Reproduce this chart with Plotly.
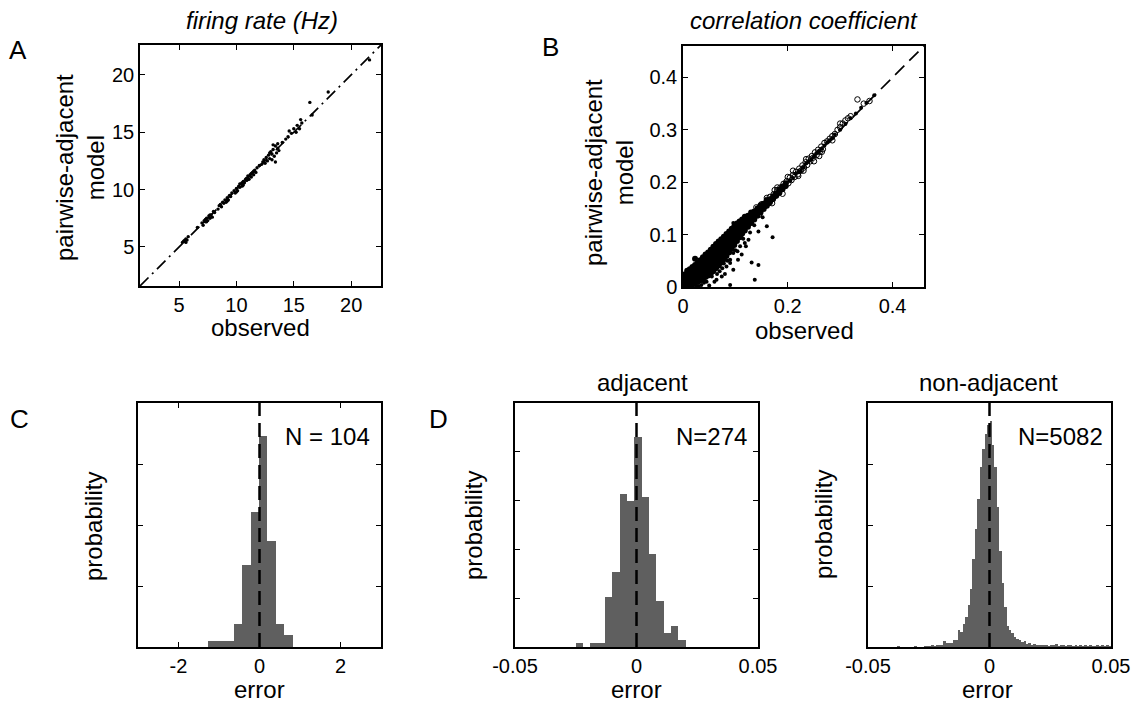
import plotly.graph_objects as go

W, H = 1144, 703
FONT = "Liberation Sans, Arial, Helvetica, sans-serif"

# ---------------- Panel A: firing rate (Hz) ----------------
a_observed = [5.3, 5.4, 5.5, 5.6, 5.7, 5.8, 5.5, 6.6,
              7.0, 7.1, 7.2, 7.3, 7.4, 7.5, 7.6, 7.7, 7.8, 7.9, 8.0, 7.4, 7.7,
              8.4, 8.5, 8.7, 8.8, 8.9, 9.0, 9.1, 9.2, 9.3, 9.4, 9.5, 8.6, 9.2,
              9.8, 9.9, 10.0, 10.1, 10.2, 10.3, 10.4, 10.5, 10.6, 10.7, 10.8, 10.9, 11.0,
              11.1, 11.2, 11.3, 11.4, 11.5, 11.6, 11.7, 10.0, 10.5, 11.0, 10.3, 11.3,
              12.0, 12.2,
              12.4, 12.5, 12.6, 12.7, 12.8, 12.9, 13.0, 13.1, 13.2, 13.3, 13.4, 13.5, 13.6, 13.7,
              13.2, 12.9, 13.4, 13.6,
              14.0, 14.3, 14.6, 14.8, 15.0, 15.2, 15.3, 15.5, 15.6, 15.7,
              16.4, 16.6, 18.0, 21.6,
              7.3, 8.1, 9.6, 10.6, 10.9, 11.5, 11.8, 12.3, 13.1, 14.5, 5.6]
a_model = [5.4, 5.5, 5.5, 5.7, 5.6, 5.9, 5.6, 6.7,
           7.1, 6.9, 7.3, 7.2, 7.5, 7.3, 7.7, 7.5, 7.8, 7.6, 8.1, 7.2, 7.8,
           8.3, 8.6, 8.5, 8.9, 8.8, 9.1, 8.9, 9.3, 9.1, 9.5, 9.4, 8.7, 9.0,
           9.9, 9.7, 10.1, 9.9, 10.3, 10.2, 10.5, 10.3, 10.7, 10.6, 10.9, 10.8, 11.2,
           10.9, 11.3, 11.1, 11.5, 11.3, 11.7, 11.5, 9.8, 10.6, 10.9, 10.5, 11.4,
           12.1, 12.2,
           12.6, 12.3, 12.8, 12.5, 13.0, 12.7, 13.3, 12.6, 13.5, 12.9, 13.8, 13.2, 14.0, 13.4,
           13.9, 13.2, 12.4, 13.6,
           14.1, 14.4, 15.1, 14.9, 15.3, 15.0, 15.6, 15.3, 16.1, 15.8,
           17.6, 16.5, 18.5, 21.3,
           7.4, 8.0, 9.7, 10.4, 11.0, 11.6, 11.9, 12.4, 13.1, 14.6, 5.4]
a_range = [1.6, 22.6]
a_ticks = [5, 10, 15, 20]

# ---------------- Panel B: correlation coefficient ----------------
# non-adjacent pairs, dense wedge near the origin: (observed, [model values])
b_nonadj_columns = [
    (0.003, [0.001, 0.006, 0.012, 0.018, 0.024]),
    (0.008, [0.002, 0.008, 0.014, 0.020, 0.026, 0.031]),
    (0.013, [0.004, 0.010, 0.016, 0.022, 0.028, 0.034]),
    (0.018, [0.005, 0.011, 0.018, 0.024, 0.031, 0.038]),
    (0.023, [0.007, 0.014, 0.021, 0.028, 0.035, 0.042, 0.054]),
    (0.028, [0.010, 0.017, 0.024, 0.031, 0.038, 0.046]),
    (0.033, [0.013, 0.020, 0.027, 0.034, 0.042, 0.051]),
    (0.038, [0.016, 0.023, 0.031, 0.039, 0.047, 0.057]),
    (0.043, [0.019, 0.027, 0.035, 0.043, 0.051, 0.062]),
    (0.048, [0.022, 0.030, 0.039, 0.047, 0.056, 0.066]),
    (0.053, [0.026, 0.035, 0.044, 0.053, 0.061, 0.071]),
    (0.058, [0.031, 0.040, 0.049, 0.058, 0.066, 0.077]),
    (0.063, [0.036, 0.045, 0.054, 0.062, 0.071, 0.082]),
    (0.068, [0.041, 0.050, 0.059, 0.067, 0.076, 0.087]),
    (0.073, [0.047, 0.056, 0.064, 0.072, 0.081, 0.091]),
    (0.078, [0.053, 0.061, 0.069, 0.077, 0.086, 0.096]),
    (0.083, [0.059, 0.067, 0.075, 0.083, 0.091, 0.101]),
    (0.088, [0.066, 0.074, 0.081, 0.088, 0.096, 0.106]),
    (0.093, [0.073, 0.080, 0.087, 0.094, 0.101, 0.111]),
    (0.098, [0.080, 0.087, 0.093, 0.099, 0.106, 0.116]),
    (0.103, [0.088, 0.094, 0.100, 0.106, 0.112, 0.121]),
    (0.108, [0.095, 0.101, 0.106, 0.112, 0.118, 0.125]),
    (0.113, [0.102, 0.107, 0.112, 0.118, 0.123, 0.129]),
    (0.118, [0.108, 0.113, 0.118, 0.123, 0.129, 0.134]),
    (0.124, [0.115, 0.120, 0.125, 0.130, 0.136]),
    (0.130, [0.122, 0.127, 0.132, 0.137, 0.142]),
    (0.136, [0.129, 0.134, 0.139, 0.144]),
    (0.142, [0.136, 0.141, 0.146, 0.150]),
    (0.148, [0.142, 0.147, 0.152, 0.156]),
    (0.154, [0.149, 0.154, 0.159]),
    (0.160, [0.155, 0.160, 0.165]),
    (0.166, [0.162, 0.167]),
    (0.172, [0.168, 0.173]),
    (0.178, [0.174, 0.179]),
    (0.184, [0.180, 0.186]),
    (0.190, [0.187, 0.192]),
    (0.196, [0.193, 0.198]),
]
# non-adjacent pairs: band along the diagonal and scattered outliers
b_nonadj_points = [
    (0.001, 0.004), (0.003, 0.009), (0.007, 0.007), (0.009, 0.015), (0.011, 0.009),
    (0.015, 0.013), (0.017, 0.023), (0.019, 0.017), (0.021, 0.028), (0.027, 0.035),
    (0.031, 0.040), (0.037, 0.045), (0.041, 0.050), (0.047, 0.057), (0.053, 0.063),
    (0.057, 0.069), (0.061, 0.075), (0.065, 0.079), (0.070, 0.084), (0.076, 0.090),
    (0.004, 0.000), (0.012, 0.003), (0.020, 0.006), (0.030, 0.013), (0.040, 0.012),
    (0.205, 0.203), (0.210, 0.208), (0.215, 0.216), (0.220, 0.219), (0.225, 0.221),
    (0.230, 0.228), (0.235, 0.236), (0.240, 0.240), (0.245, 0.243), (0.250, 0.249),
    (0.255, 0.256), (0.260, 0.259), (0.265, 0.264), (0.270, 0.270), (0.275, 0.276),
    (0.280, 0.280), (0.285, 0.284), (0.290, 0.291), (0.300, 0.300), (0.310, 0.311),
    (0.320, 0.322), (0.330, 0.331), (0.340, 0.342), (0.350, 0.351), (0.365, 0.366),
    (0.096, 0.122), (0.099, 0.107), (0.112, 0.094), (0.125, 0.090), (0.144, 0.106),
    (0.160, 0.116), (0.171, 0.095), (0.109, 0.078), (0.096, 0.065), (0.112, 0.062),
    (0.090, 0.052), (0.105, 0.052), (0.083, 0.039), (0.096, 0.033), (0.074, 0.020),
    (0.064, 0.014), (0.090, 0.004), (0.137, 0.014), (0.131, 0.047), (0.144, 0.042),
    (0.090, 0.046), (0.060, 0.010), (0.070, 0.030), (0.055, 0.020), (0.045, 0.010),
    (0.050, 0.003), (0.080, 0.025), (0.065, 0.025), (0.085, 0.050), (0.100, 0.070),
    (0.115, 0.092), (0.120, 0.078), (0.078, 0.045), (0.058, 0.028), (0.040, 0.008),
    (0.035, 0.004), (0.030, 0.002), (0.025, 0.001), (0.070, 0.040), (0.075, 0.036),
    (0.118, 0.084), (0.128, 0.104), (0.136, 0.118), (0.152, 0.133), (0.104, 0.068),
]
# adjacent pairs (open circles)
b_adj_points = [
    (0.030, 0.034), (0.045, 0.050), (0.060, 0.068), (0.070, 0.075), (0.080, 0.088),
    (0.090, 0.095), (0.100, 0.107), (0.105, 0.112), (0.110, 0.116), (0.115, 0.120),
    (0.120, 0.125), (0.125, 0.128), (0.130, 0.135), (0.133, 0.138), (0.136, 0.142),
    (0.140, 0.145), (0.143, 0.143), (0.146, 0.152), (0.150, 0.150), (0.153, 0.158),
    (0.156, 0.154), (0.160, 0.166), (0.163, 0.160), (0.166, 0.172), (0.170, 0.168),
    (0.173, 0.177), (0.176, 0.174), (0.180, 0.185), (0.183, 0.180), (0.186, 0.190),
    (0.189, 0.187), (0.192, 0.197), (0.195, 0.193), (0.198, 0.202), (0.201, 0.198),
    (0.204, 0.209), (0.207, 0.204), (0.210, 0.214), (0.213, 0.210), (0.216, 0.220),
    (0.219, 0.215), (0.222, 0.226), (0.225, 0.222), (0.228, 0.232), (0.231, 0.228),
    (0.234, 0.238), (0.237, 0.233), (0.240, 0.245), (0.243, 0.240), (0.246, 0.250),
    (0.249, 0.247), (0.252, 0.257), (0.255, 0.252), (0.258, 0.262), (0.261, 0.258),
    (0.264, 0.268), (0.267, 0.263), (0.270, 0.275), (0.275, 0.278), (0.280, 0.283),
    (0.285, 0.288), (0.290, 0.292), (0.300, 0.305), (0.305, 0.312), (0.310, 0.318),
    (0.315, 0.322), (0.320, 0.326), (0.333, 0.358), (0.345, 0.350), (0.356, 0.355),
    (0.300, 0.312), (0.295, 0.300), (0.250, 0.240), (0.260, 0.250), (0.220, 0.212),
    (0.200, 0.210), (0.180, 0.190), (0.160, 0.170), (0.170, 0.160), (0.140, 0.152),
    (0.150, 0.158), (0.190, 0.178), (0.230, 0.222), (0.210, 0.222), (0.175, 0.185),
    (0.145, 0.138), (0.235, 0.244), (0.265, 0.258), (0.285, 0.280),
]
b_range = [0, 0.46]
b_xticks = [0, 0.2, 0.4]
b_xticklabels = ["0", "0.2", "0.4"]
b_yticks = [0, 0.1, 0.2, 0.3, 0.4]
b_yticklabels = ["0", "0.1", "0.2", "0.3", "0.4"]

# ---------------- Panel C: firing-rate error histogram ----------------
c_bin_centers = [-1.156, -0.948, -0.740, -0.532, -0.324, -0.116, 0.092, 0.300, 0.508, 0.716]
c_bin_width = 0.208
c_counts = [1, 1, 1, 4, 14, 23, 36, 18, 4, 2]
c_N = 104

# ---------------- Panel D: correlation error histograms ----------------
d_adj_bin_centers = [-0.02349, -0.02048, -0.01747, -0.01445, -0.01144, -0.00843, -0.00541,
                     -0.00240, 0.00061, 0.00363, 0.00664, 0.00965, 0.01267, 0.01568, 0.01869]
d_adj_bin_width = 0.003013
d_adj_counts = [1, 0, 1, 1, 14, 21, 43, 41, 59, 42, 26, 13, 4, 6, 2]
d_adj_N = 274

d_non_bin_start = -0.0495   # centre of first bin
d_non_bin_width = 0.001
d_non_counts = [0, 0, 0, 0, 0, 0, 0, 0, 0, 0, 0, 0, 1, 0, 0, 0, 0, 0, 0, 1, 0, 0, 0,
                1, 1, 2, 3, 2, 4, 4, 5, 12, 8, 9, 9, 14, 15,
                35, 31, 48, 62, 87, 121, 183, 246, 308, 375, 412, 444, 462,
                471, 421, 375, 292, 200, 133, 83, 44, 35, 29, 21, 17, 15, 10, 12, 7, 8, 5, 6, 4,
                4, 3, 5, 3, 2, 4, 3, 6, 2, 3, 4, 2, 3, 5, 2, 3, 2, 4, 2, 3, 2, 4, 2, 2, 3, 2, 4, 2, 5, 2]
d_non_N = 5082
d_non_bin_centers = [round(d_non_bin_start + d_non_bin_width * i, 4) for i in range(len(d_non_counts))]

err_c_range = [-3, 3]
err_c_ticks = [-2, 0, 2]
err_c_ticklabels = ["-2", "0", "2"]
err_d_range = [-0.05, 0.05]
err_d_ticks = [-0.05, 0, 0.05]
err_d_ticklabels = ["-0.05", "0", "0.05"]

BAR_COLOR = "#5f5f5f"


def px_dom_x(a, b):
    return [a / W, b / W]


def px_dom_y(top, bottom):
    return [1 - bottom / H, 1 - top / H]


b_wedge_x = [c[0] for c in b_nonadj_columns for _ in c[1]]
b_wedge_y = [v for c in b_nonadj_columns for v in c[1]]

fig = go.Figure()

# A
fig.add_trace(go.Scatter(x=a_range, y=a_range, mode="lines",
                         line=dict(color="black", width=1.7, dash="12px,5px,2px,5px"),
                         xaxis="x", yaxis="y", hoverinfo="skip"))
fig.add_trace(go.Scatter(x=a_observed, y=a_model, mode="markers",
                         marker=dict(color="black", size=3.4), xaxis="x", yaxis="y"))

# B
fig.add_trace(go.Scatter(x=b_range, y=b_range, mode="lines",
                         line=dict(color="black", width=1.7, dash="13px,7px"),
                         xaxis="x2", yaxis="y2", hoverinfo="skip"))
fig.add_trace(go.Scatter(x=b_wedge_x, y=b_wedge_y,
                         mode="markers", marker=dict(color="black", size=6),
                         xaxis="x2", yaxis="y2"))
fig.add_trace(go.Scatter(x=[p[0] for p in b_nonadj_points], y=[p[1] for p in b_nonadj_points],
                         mode="markers", marker=dict(color="black", size=4),
                         xaxis="x2", yaxis="y2"))
fig.add_trace(go.Scatter(x=[p[0] for p in b_adj_points], y=[p[1] for p in b_adj_points],
                         mode="markers",
                         marker=dict(symbol="circle-open", color="black", size=5.5, line=dict(width=1)),
                         xaxis="x2", yaxis="y2"))

# C
fig.add_trace(go.Bar(x=c_bin_centers, y=[c / c_N for c in c_counts], width=c_bin_width,
                     marker=dict(color=BAR_COLOR, line=dict(width=0)), xaxis="x3", yaxis="y3"))
fig.add_trace(go.Scatter(x=[0, 0], y=[0, 0.4], mode="lines",
                         line=dict(color="black", width=2.5, dash="14px,7px"),
                         xaxis="x3", yaxis="y3", hoverinfo="skip"))

# D adjacent
fig.add_trace(go.Bar(x=d_adj_bin_centers, y=[c / d_adj_N for c in d_adj_counts], width=d_adj_bin_width,
                     marker=dict(color=BAR_COLOR, line=dict(width=0)), xaxis="x4", yaxis="y4"))
fig.add_trace(go.Scatter(x=[0, 0], y=[0, 0.25], mode="lines",
                         line=dict(color="black", width=2.5, dash="14px,7px"),
                         xaxis="x4", yaxis="y4", hoverinfo="skip"))

# D non-adjacent
fig.add_trace(go.Bar(x=d_non_bin_centers, y=[c / d_non_N for c in d_non_counts], width=d_non_bin_width,
                     marker=dict(color=BAR_COLOR, line=dict(width=0)), xaxis="x5", yaxis="y5"))
fig.add_trace(go.Scatter(x=[0, 0], y=[0, 0.1], mode="lines",
                         line=dict(color="black", width=2.5, dash="14px,7px"),
                         xaxis="x5", yaxis="y5", hoverinfo="skip"))

common = dict(showline=True, linecolor="black", linewidth=1.5, mirror="ticks",
              ticks="inside", ticklen=5, tickwidth=1, tickcolor="black", automargin=False,
              showgrid=False, zeroline=False, tickfont=dict(size=20, color="black", family=FONT))

layout = dict(
    width=W, height=H, margin=dict(l=0, r=0, t=0, b=0, pad=0), autosize=False,
    template="none",
    paper_bgcolor="white", plot_bgcolor="white", showlegend=False,
    font=dict(family=FONT, color="black"), bargap=0,
    xaxis=dict(domain=px_dom_x(140, 381), range=a_range, tickvals=a_ticks, anchor="y", **common),
    yaxis=dict(domain=px_dom_y(45, 286), range=a_range, tickvals=a_ticks, anchor="x", **common),
    xaxis2=dict(domain=px_dom_x(683, 924), range=b_range, tickvals=b_xticks, ticktext=b_xticklabels,
                anchor="y2", **common),
    yaxis2=dict(domain=px_dom_y(46, 287), range=b_range, tickvals=b_yticks, ticktext=b_yticklabels,
                anchor="x2", **common),
    xaxis3=dict(domain=px_dom_x(138, 381), range=err_c_range, tickvals=err_c_ticks,
                ticktext=err_c_ticklabels, anchor="y3", **common),
    yaxis3=dict(domain=px_dom_y(403, 647), range=[0, 0.4], tickvals=[0, 0.1, 0.2, 0.3, 0.4],
                showticklabels=False, anchor="x3", **common),
    xaxis4=dict(domain=px_dom_x(515, 758), range=err_d_range, tickvals=err_d_ticks,
                ticktext=err_d_ticklabels, anchor="y4", **common),
    yaxis4=dict(domain=px_dom_y(403, 647), range=[0, 0.25], tickvals=[0, 0.05, 0.1, 0.15, 0.2, 0.25],
                showticklabels=False, anchor="x4", **common),
    xaxis5=dict(domain=px_dom_x(868, 1111), range=err_d_range, tickvals=err_d_ticks,
                ticktext=err_d_ticklabels, anchor="y5", **common),
    yaxis5=dict(domain=px_dom_y(403, 647), range=[0, 0.1], tickvals=[0, 0.025, 0.05, 0.075, 0.1],
                showticklabels=False, anchor="x5", **common),
)
fig.update_layout(**layout)


def ann(text, x, y, size=24, angle=0):
    fig.add_annotation(text=text, x=x / W, y=1 - y / H, xref="paper", yref="paper",
                       xanchor="center", yanchor="middle", showarrow=False, textangle=angle,
                       font=dict(size=size, family=FONT, color="black"))


ann("A", 18, 50, 26)
ann("B", 550, 47, 26)
ann("C", 19, 419, 26)
ann("D", 438, 419, 26)
ann("<i>firing rate (Hz)</i>", 262, 20, 24)
ann("<i>correlation coefficient</i>", 804, 20, 24)
ann("observed", 260, 328)
ann("observed", 804, 330)
ann("pairwise-adjacent<br>model", 80, 168, 24, -90)
ann("pairwise-adjacent<br>model", 609, 172, 24, -90)
ann("probability", 93, 527, 24, -90)
ann("probability", 473, 525, 24, -90)
ann("probability", 823, 525, 24, -90)
ann("error", 259, 689)
ann("error", 636, 689)
ann("error", 987, 689)
ann("N = 104", 327, 436)
ann("N=274", 711, 436)
ann("N=5082", 1060, 436)
ann("adjacent", 642, 382)
ann("non-adjacent", 988, 382)

fig.write_html("out.html")
